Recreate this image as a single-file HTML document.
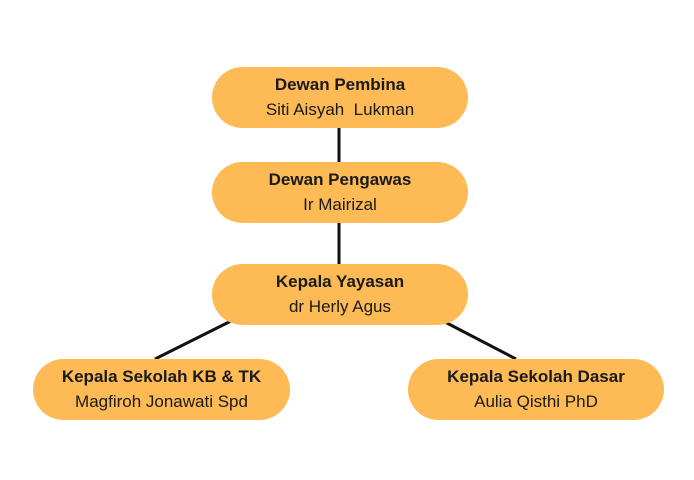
<!DOCTYPE html>
<html><head><style>
body{margin:0;width:694px;height:480px;background:#fff;position:relative;font-family:"Liberation Sans",sans-serif;overflow:hidden}
.n{position:absolute;width:256px;height:61px;border-radius:31px;background:#FDBA55;text-align:center;color:#1a1a1a}
.n b{display:block;font-size:17px;margin-top:8px;line-height:20px}
.n span{display:block;font-size:17px;line-height:20px;margin-top:5px}
svg{position:absolute;left:0;top:0}
</style></head><body>
<svg width="694" height="480"><g stroke="#111" stroke-width="3">
<line x1="339" y1="128" x2="339" y2="162"/>
<line x1="339" y1="223" x2="339" y2="264"/>
<line x1="233" y1="320" x2="155" y2="359"/>
<line x1="443" y1="321" x2="516" y2="359"/>
</g></svg>
<div class="n" style="left:212px;top:67px"><b>Dewan Pembina</b><span>Siti Aisyah&nbsp; Lukman</span></div>
<div class="n" style="left:212px;top:162px"><b>Dewan Pengawas</b><span>Ir Mairizal</span></div>
<div class="n" style="left:212px;top:264px"><b>Kepala Yayasan</b><span>dr Herly Agus</span></div>
<div class="n" style="left:33px;top:359px;width:257px"><b>Kepala Sekolah KB &amp; TK</b><span>Magfiroh Jonawati Spd</span></div>
<div class="n" style="left:408px;top:359px"><b>Kepala Sekolah Dasar</b><span>Aulia Qisthi PhD</span></div>
</body></html>
